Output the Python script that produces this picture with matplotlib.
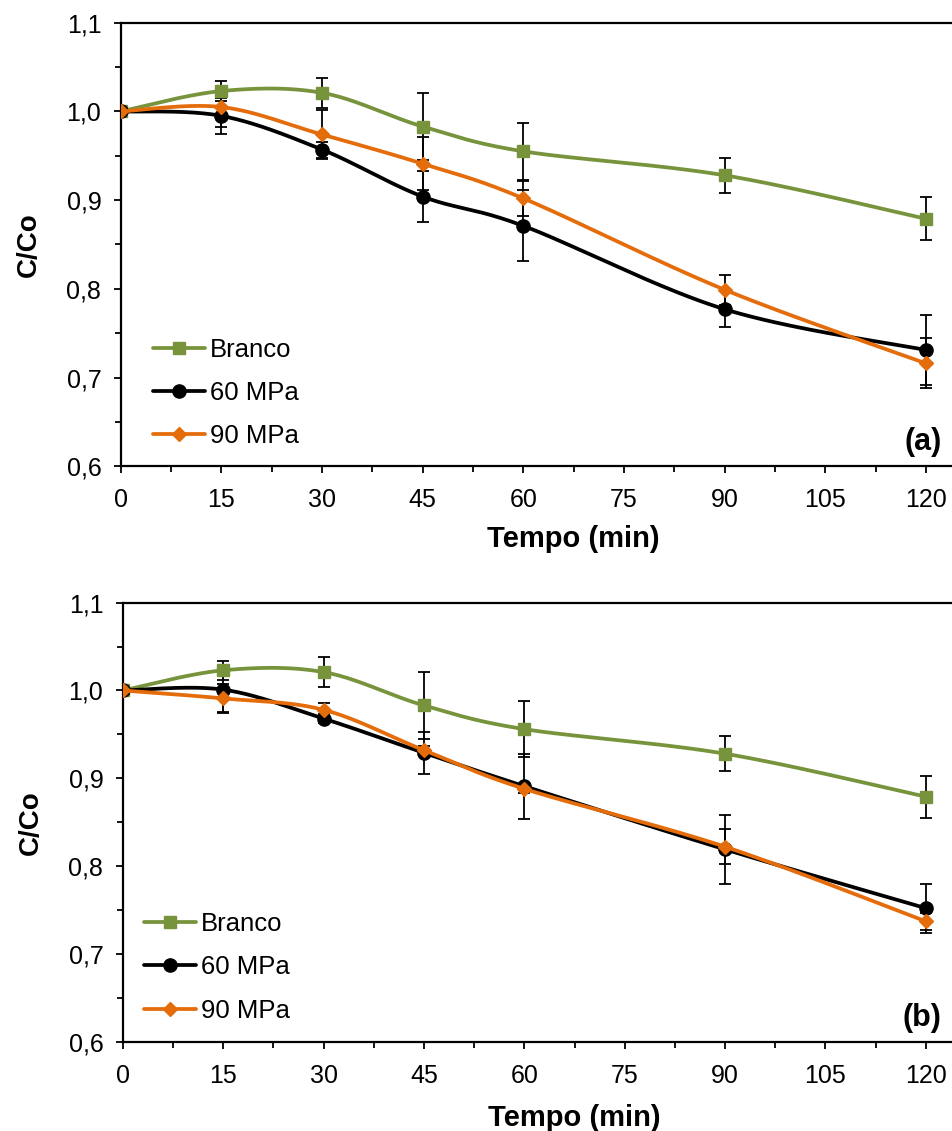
import numpy as np
import matplotlib
matplotlib.use('Agg')
import matplotlib.pyplot as plt
from matplotlib.ticker import MultipleLocator, FuncFormatter

# tempo (min)
time = [0, 15, 30, 45, 60, 90, 120]

# painel (a)
branco_a = [1.000, 1.023, 1.021, 0.983, 0.955, 0.928, 0.879]
branco_a_err = [0, 0.011, 0.017, 0.038, 0.032, 0.020, 0.024]
mpa60_a = [1.000, 0.995, 0.957, 0.904, 0.871, 0.777, 0.731]
mpa60_a_err = [0, 0.020, 0.009, 0.029, 0.040, 0.020, 0.039]
mpa90_a = [1.000, 1.005, 0.974, 0.941, 0.902, 0.799, 0.716]
mpa90_a_err = [0, 0.023, 0.028, 0.030, 0.020, 0.017, 0.028]

# painel (b)
branco_b = [1.000, 1.023, 1.021, 0.983, 0.956, 0.928, 0.879]
branco_b_err = [0, 0.011, 0.017, 0.038, 0.032, 0.020, 0.024]
mpa60_b = [1.000, 1.001, 0.968, 0.929, 0.891, 0.819, 0.752]
mpa60_b_err = [0, 0.027, 0.005, 0.024, 0.037, 0.039, 0.028]
mpa90_b = [1.000, 0.991, 0.978, 0.932, 0.888, 0.822, 0.737]
mpa90_b_err = [0, 0.016, 0.008, 0.005, 0.005, 0.020, 0.010]

labels = ['Branco', '60 MPa', '90 MPa']

green = '#77933C'
orange = '#E46C0A'

plt.rcParams['font.family'] = ['Liberation Sans', 'DejaVu Sans']


def smooth(x, y, n=40):
    # Excel style smoothed line (Catmull-Rom segments as cubic Beziers)
    p = np.column_stack([x, y]).astype(float)
    ext = np.vstack([p[0], p, p[-1]])
    t = np.linspace(0, 1, n, endpoint=False)[:, None]
    xs, ys, knots = [], [], []
    for i in range(len(p) - 1):
        p0, p1 = ext[i + 1], ext[i + 2]
        c1 = p0 + (ext[i + 2] - ext[i]) / 6.0
        c2 = p1 - (ext[i + 3] - ext[i + 1]) / 6.0
        b = (1 - t)**3 * p0 + 3 * (1 - t)**2 * t * c1 + 3 * (1 - t) * t**2 * c2 + t**3 * p1
        knots.append(len(xs))
        xs.extend(b[:, 0])
        ys.extend(b[:, 1])
    knots.append(len(xs))
    xs.append(p[-1, 0])
    ys.append(p[-1, 1])
    return xs, ys, knots


def comma(v, pos):
    return ('%.1f' % v).replace('.', ',')


def panel(ax, series, tag, leg_anchor, xlab_y):
    for vals, errs, color, marker, ms, label in series:
        tt = [t for t, e in zip(time, errs) if e > 0]
        vv = [v for v, e in zip(vals, errs) if e > 0]
        ee = [e for e in errs if e > 0]
        ax.errorbar(tt, vv, yerr=ee, fmt='none', ecolor='black', elinewidth=1.3,
                    capsize=4.4, capthick=1.3, zorder=2)
    z = 3
    for vals, errs, color, marker, ms, label in series:
        xs, ys, knots = smooth(time, vals)
        ax.plot(xs, ys, color=color, lw=2.7, marker=marker, markevery=knots, ms=ms,
                mfc=color, mec=color, label=label, zorder=z, solid_capstyle='round')
        z += 1

    ax.set_xlim(0, 123.9)
    ax.set_ylim(0.6, 1.1)
    ax.xaxis.set_major_locator(MultipleLocator(15))
    ax.xaxis.set_minor_locator(MultipleLocator(7.5))
    ax.yaxis.set_major_locator(MultipleLocator(0.1))
    ax.yaxis.set_minor_locator(MultipleLocator(0.05))
    ax.yaxis.set_major_formatter(FuncFormatter(comma))
    ax.spines['right'].set_visible(False)
    for s in ['left', 'bottom', 'top']:
        ax.spines[s].set_linewidth(1.6)
    ax.tick_params(which='major', direction='out', length=5, width=1.3, labelsize=18)
    ax.tick_params(which='minor', direction='out', length=4, width=1.3)
    ax.tick_params(axis='x', which='both', top=False, pad=11)
    ax.tick_params(axis='y', which='both', right=False, pad=9)

    ax.set_xlabel('Tempo (min)', fontsize=21, fontweight='bold')
    ax.xaxis.label.set_va('center')
    ax.xaxis.set_label_coords(0.544, xlab_y)
    ax.set_ylabel('C/Co', fontsize=20, fontweight='bold')
    ax.yaxis.label.set_va('center')
    ax.yaxis.set_label_coords(-0.111, 0.5)

    ax.text(122.3, 0.627, tag, ha='right', va='center', fontsize=22, fontweight='bold')

    ax.legend(loc='upper left', bbox_to_anchor=leg_anchor, frameon=False, fontsize=18.5,
              handlelength=2.0, handletextpad=0.2, labelspacing=0.75, borderpad=0,
              borderaxespad=0, numpoints=1)


fig = plt.figure(figsize=(9.52, 11.31), dpi=100)
ax1 = fig.add_axes([0.1268, 0.5878, 0.8732, 0.3921])
ax2 = fig.add_axes([0.1289, 0.0790, 0.8711, 0.3881])

series_a = [
    (branco_a, branco_a_err, green, 's', 8, labels[0]),
    (mpa60_a, mpa60_a_err, 'black', 'o', 9.5, labels[1]),
    (mpa90_a, mpa90_a_err, orange, 'D', 7.5, labels[2]),
]
series_b = [
    (branco_b, branco_b_err, green, 's', 8, labels[0]),
    (mpa60_b, mpa60_b_err, 'black', 'o', 9.5, labels[1]),
    (mpa90_b, mpa90_b_err, orange, 'D', 7.5, labels[2]),
]

panel(ax1, series_a, '(a)', (0.039, 0.290), -0.165)
panel(ax2, series_b, '(b)', (0.026, 0.295), -0.174)

fig.savefig('out.png', dpi=100)
